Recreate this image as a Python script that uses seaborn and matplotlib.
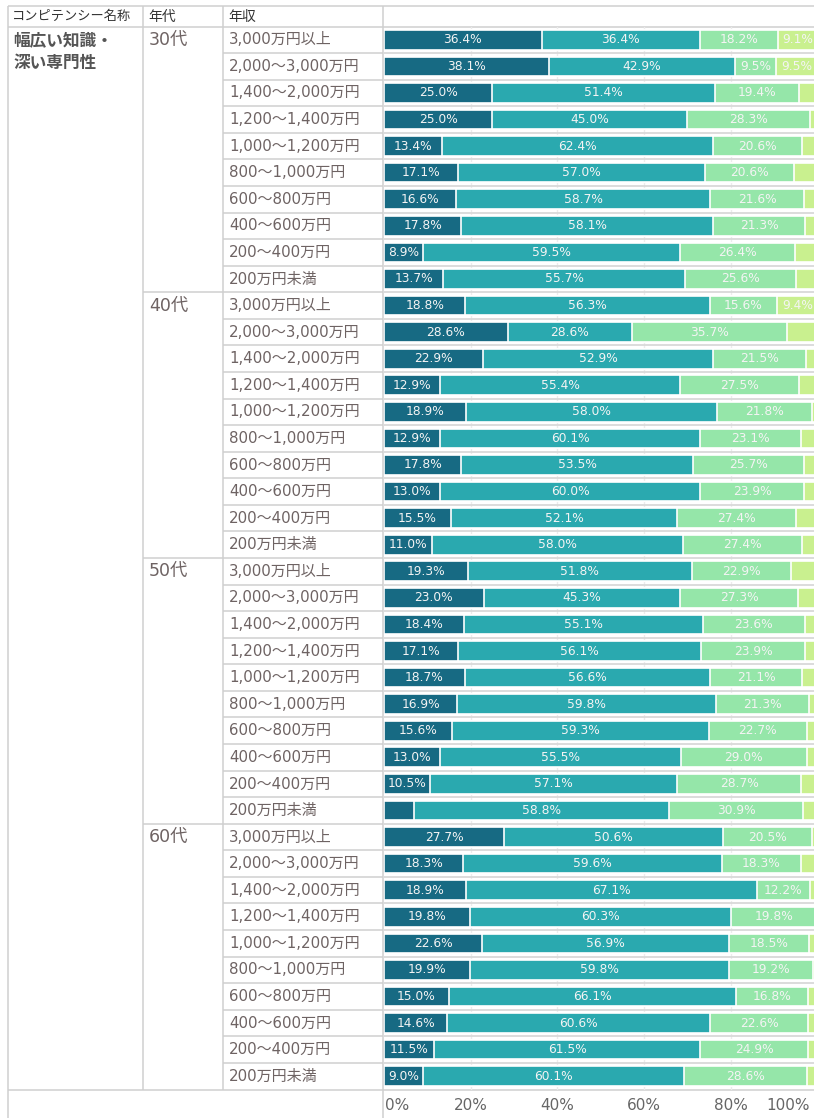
import numpy as np
import pandas as pd
import matplotlib
matplotlib.use("Agg")
import matplotlib.pyplot as plt
import matplotlib.transforms as mtransforms
import seaborn as sns

# ---- data -------------------------------------------------------------
competency = "幅広い知識・\n深い専門性"
ages = ["30代", "40代", "50代", "60代"]
incomes = ["3,000万円以上", "2,000～3,000万円", "1,400～2,000万円", "1,200～1,400万円",
           "1,000～1,200万円", "800～1,000万円", "600～800万円", "400～600万円",
           "200～400万円", "200万円未満"]

# share (%) of each response level, one list per age band (rows follow `incomes`)
level1 = {
    "30代": [36.4, 38.1, 25.0, 25.0, 13.4, 17.1, 16.6, 17.8, 8.9, 13.7],
    "40代": [18.8, 28.6, 22.9, 12.9, 18.9, 12.9, 17.8, 13.0, 15.5, 11.0],
    "50代": [19.3, 23.0, 18.4, 17.1, 18.7, 16.9, 15.6, 13.0, 10.5, 7.0],
    "60代": [27.7, 18.3, 18.9, 19.8, 22.6, 19.9, 15.0, 14.6, 11.5, 9.0],
}
level2 = {
    "30代": [36.4, 42.9, 51.4, 45.0, 62.4, 57.0, 58.7, 58.1, 59.5, 55.7],
    "40代": [56.3, 28.6, 52.9, 55.4, 58.0, 60.1, 53.5, 60.0, 52.1, 58.0],
    "50代": [51.8, 45.3, 55.1, 56.1, 56.6, 59.8, 59.3, 55.5, 57.1, 58.8],
    "60代": [50.6, 59.6, 67.1, 60.3, 56.9, 59.8, 66.1, 60.6, 61.5, 60.1],
}
level3 = {
    "30代": [18.2, 9.5, 19.4, 28.3, 20.6, 20.6, 21.6, 21.3, 26.4, 25.6],
    "40代": [15.6, 35.7, 21.5, 27.5, 21.8, 23.1, 25.7, 23.9, 27.4, 27.4],
    "50代": [22.9, 27.3, 23.6, 23.9, 21.1, 21.3, 22.7, 29.0, 28.7, 30.9],
    "60代": [20.5, 18.3, 12.2, 19.8, 18.5, 19.2, 16.8, 22.6, 24.9, 28.6],
}
level4 = {
    "30代": [9.1, 9.5, 4.2, 1.7, 3.6, 5.3, 3.1, 2.8, 5.2, 5.0],
    "40代": [9.4, 7.1, 2.7, 4.2, 1.3, 3.9, 3.0, 3.1, 5.0, 3.6],
    "50代": [6.0, 4.4, 2.9, 2.9, 3.6, 2.0, 2.4, 2.5, 3.7, 3.3],
    "60代": [1.2, 3.8, 1.8, 0.1, 2.0, 1.1, 2.1, 2.2, 2.1, 2.3],
}
x_ticks = [0, 20, 40, 60, 80, 100]

# ---- styling ----------------------------------------------------------
sns.set_theme(style="white")
plt.rcParams["font.family"] = ["DejaVu Sans", "Noto Sans CJK JP"]

level_colors = ["#176a83", "#2aa9af", "#95e6a9", "#c9f08f"]
line_color = "#cfcfcf"
label_color = "#6e6363"

# long table: one row per (age, income)
records = []
for age in ages:
    for k, inc in enumerate(incomes):
        records.append({
            "row": f"{age}|{inc}", "age": age, "income": inc,
            "l1": level1[age][k], "l2": level2[age][k],
            "l3": level3[age][k], "l4": level4[age][k],
        })
df = pd.DataFrame(records)
df["c1"] = df["l1"]
df["c2"] = df["c1"] + df["l2"]
df["c3"] = df["c2"] + df["l3"]
df["c4"] = df["c3"] + df["l4"]
order = list(df["row"])
n_rows = len(order)

# ---- figure / layout (pixel based) -------------------------------------
W, H = 814, 1118
fig = plt.figure(figsize=(W / 100, H / 100), dpi=100)
bg = fig.add_axes([0, 0, 1, 1])
bg.set_xlim(0, W)
bg.set_ylim(H, 0)
bg.axis("off")

table_left, col_age, col_inc, col_bar = 8, 143, 223, 383
head_top, body_top, body_bottom = 6, 26.5, 1089.5
pitch = (body_bottom - body_top) / n_rows

ax = fig.add_axes([(col_bar + 1) / W, 1 - body_bottom / H,
                   (W - col_bar - 1) / W, (body_bottom - body_top) / H])
ax.patch.set_visible(False)

# stacked bars: draw cumulative totals from the widest down
for col, color in zip(["c4", "c3", "c2", "c1"], level_colors[::-1]):
    sns.barplot(data=df, x=col, y="row", order=order, orient="h",
                color=color, saturation=1, width=0.74, errorbar=None,
                edgecolor="white", linewidth=1.2, ax=ax, zorder=3)

x_max = 99.2
ax.set_xlim(0, x_max)
ax.set_ylim(n_rows - 0.5, -0.5)
ax.set_xlabel("")
ax.set_ylabel("")
ax.set_xticks([])
ax.set_yticks([])
for s in ax.spines.values():
    s.set_visible(False)

# grid + row separators in the bar pane
for v in x_ticks[1:-1]:
    ax.axvline(v, color="#ececec", lw=1, zorder=1)
ax.hlines(np.arange(0.5, n_rows - 0.5), 0, x_max, color="#d9d9d9", lw=1.3, zorder=2)

# value labels
for i, r in df.iterrows():
    left = 0.0
    for lv in ["l1", "l2", "l3", "l4"]:
        v = r[lv]
        if v >= 8.5:
            ax.text(left + v / 2, i, f"{v:.1f}%", ha="center", va="center",
                    color="#f4f4f4", fontsize=8.8, zorder=5)
        left += v

# x tick labels under the pane
trans = mtransforms.blended_transform_factory(ax.transData, bg.transData)
for v in x_ticks:
    if v == 0:
        ax.text(0.3, 1106, f"{v}%", transform=trans, ha="left", va="center",
                fontsize=11, color="#666666", clip_on=False)
    elif v == 100:
        ax.text(x_max - 0.9, 1106, f"{v}%", transform=trans, ha="right", va="center",
                fontsize=11, color="#666666", clip_on=False)
    else:
        ax.text(v, 1106, f"{v}%", transform=trans, ha="center", va="center",
                fontsize=11, color="#666666", clip_on=False)

# ---- table frame ------------------------------------------------------
def hline(y, x0, x1):
    bg.plot([x0, x1], [y, y], color=line_color, lw=1.1, solid_capstyle="butt")

def vline(x, y0, y1):
    bg.plot([x, x], [y0, y1], color=line_color, lw=1.1, solid_capstyle="butt")

hline(head_top, table_left, W)
hline(body_top, table_left, W)
hline(body_bottom, table_left, W)
for k in range(1, n_rows):
    y = body_top + k * pitch
    hline(y, col_inc, col_bar)
    if k % len(incomes) == 0:
        hline(y, col_age, col_inc)
vline(table_left, head_top, H)
vline(col_age, head_top, body_bottom)
vline(col_inc, head_top, body_bottom)
vline(col_bar, head_top, H)

# header
head_y = (head_top + body_top) / 2 + 0.5
bg.text(12, head_y, "コンピテンシー名称", ha="left", va="center", fontsize=9.5, color="#333333")
bg.text(148, head_y, "年代", ha="left", va="center", fontsize=10, color="#333333")
bg.text(228, head_y, "年収", ha="left", va="center", fontsize=10, color="#333333")

# competency name
for j, line in enumerate(competency.split("\n")):
    bg.text(13, body_top + 14 + j * 22.5, line, ha="left", va="center",
            fontsize=12, fontweight="bold", color="#555555",
            family=["Noto Sans CJK JP", "DejaVu Sans"])

# age and income labels
for i, r in df.iterrows():
    yc = body_top + (i + 0.5) * pitch
    if i % len(incomes) == 0:
        bg.text(149, yc, r["age"], ha="left", va="center", fontsize=12.5, color=label_color)
    bg.text(229, yc, r["income"], ha="left", va="center", fontsize=10.8, color=label_color)

fig.savefig("out.png", dpi=100)
